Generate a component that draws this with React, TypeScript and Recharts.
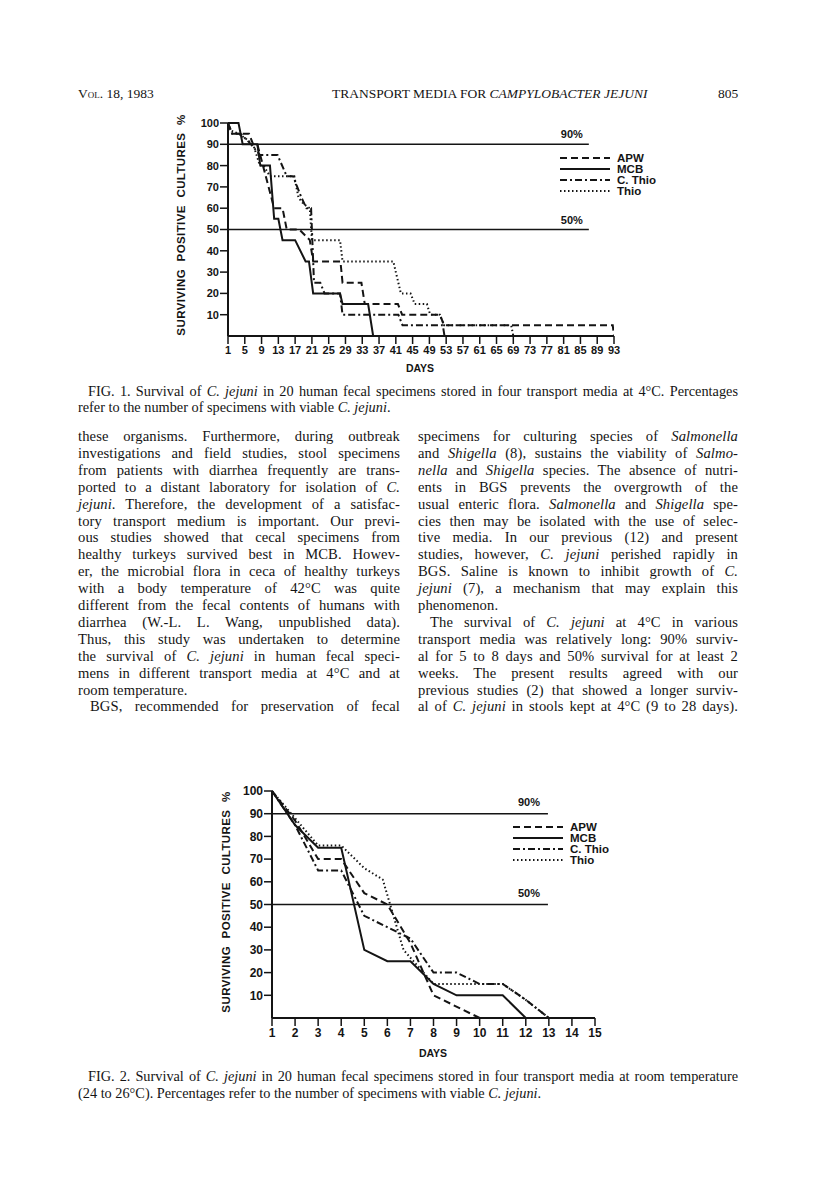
import React from 'react';
import { LineChart, Line, XAxis, YAxis, ReferenceLine, Legend } from 'recharts';

// Fig. 1 — storage at 4°C, [day, % surviving]
const apwCold: [number, number][] = [
  [1, 100], [2, 95], [6, 95], [7, 90], [8, 90], [12, 60], [14, 60], [15, 50], [18, 50],
  [20.5, 45], [21.3, 35], [27.8, 35], [28.3, 25], [32.8, 25], [33.6, 15], [41.5, 15],
  [42.5, 10], [51.5, 10], [52.5, 5], [92.7, 5], [93, 0],
];
const mcbCold: [number, number][] = [
  [1, 100], [3.5, 100], [4.5, 90], [8, 90], [8.7, 80], [11, 80], [12, 55], [13, 55],
  [14, 45], [17, 45], [19.5, 35], [20.3, 35], [21.3, 20], [27.7, 20], [28.3, 15],
  [34.4, 15], [35.6, 0],
];
const cthioCold: [number, number][] = [
  [1, 100], [2, 95], [4, 95], [6.5, 90], [8.6, 85], [12.8, 85], [15, 75], [16.5, 75],
  [17.5, 70], [18.5, 65], [19.7, 60], [20.8, 60], [21.5, 25], [23, 25], [24, 20],
  [27.7, 20], [28.3, 10], [41.6, 10], [42.6, 5], [52.2, 5], [52.6, 0],
];
const thioCold: [number, number][] = [
  [1, 97], [3.5, 95], [5, 93], [7, 90], [8.6, 80], [9.5, 80], [11, 75], [16.8, 75],
  [17.8, 65], [19, 62], [20.5, 60], [21, 45], [27.7, 45], [28.3, 35], [40.4, 35],
  [42.2, 20], [44.5, 20], [45.5, 15], [48.4, 15], [49.2, 10], [51.5, 10], [52.5, 5],
  [68.5, 5], [69, 0],
];

// Fig. 2 — room temperature
const apwRoom: [number, number][] = [
  [1, 100], [2, 87], [3, 70], [4, 70], [5, 55], [6, 50], [7, 33], [8, 10], [10, 0],
];
const mcbRoom: [number, number][] = [
  [1, 100], [2, 85], [3, 75], [4, 75], [5, 30], [6, 25], [7, 25], [8, 15], [9, 10],
  [11, 10], [12, 0],
];
const cthioRoom: [number, number][] = [
  [1, 100], [2, 85], [3, 65], [4, 65], [5, 45], [6, 40], [7, 35], [8, 20], [9, 20],
  [10, 15], [11, 15], [12, 8], [13, 0],
];
const thioRoom: [number, number][] = [
  [1, 100], [2, 88], [3, 76], [4, 76], [5, 66], [5.8, 61], [6.7, 30], [8, 15], [11, 15],
  [12, 8], [13, 0],
];

const ticksCold = [1, 5, 9, 13, 17, 21, 25, 29, 33, 37, 41, 45, 49, 53, 57, 61, 65, 69, 73, 77, 81, 85, 89, 93];
const ticksRoom = [1, 2, 3, 4, 5, 6, 7, 8, 9, 10, 11, 12, 13, 14, 15];
const pctTicks = [10, 20, 30, 40, 50, 60, 70, 80, 90, 100];
const mediaNames = ['APW', 'MCB', 'C. Thio', 'Thio'];

const leftColumn = [
  'these organisms. Furthermore, during outbreak',
  'investigations and field studies, stool specimens',
  'from patients with diarrhea frequently are trans-',
  'ported to a distant laboratory for isolation of *C.*',
  '*jejuni*. Therefore, the development of a satisfac-',
  'tory transport medium is important. Our previ-',
  'ous studies showed that cecal specimens from',
  'healthy turkeys survived best in MCB. Howev-',
  'er, the microbial flora in ceca of healthy turkeys',
  'with a body temperature of 42°C was quite',
  'different from the fecal contents of humans with',
  'diarrhea (W.-L. L. Wang, unpublished data).',
  'Thus, this study was undertaken to determine',
  'the survival of *C. jejuni* in human fecal speci-',
  'mens in different transport media at 4°C and at',
  'room temperature.',
  'BGS, recommended for preservation of fecal',
];
const rightColumn = [
  'specimens for culturing species of *Salmonella*',
  'and *Shigella* (8), sustains the viability of *Salmo-*',
  '*nella* and *Shigella* species. The absence of nutri-',
  'ents in BGS prevents the overgrowth of the',
  'usual enteric flora. *Salmonella* and *Shigella* spe-',
  'cies then may be isolated with the use of selec-',
  'tive media. In our previous (12) and present',
  'studies, however, *C. jejuni* perished rapidly in',
  'BGS. Saline is known to inhibit growth of *C.*',
  '*jejuni* (7), a mechanism that may explain this',
  'phenomenon.',
  'The survival of *C. jejuni* at 4°C in various',
  'transport media was relatively long: 90% surviv-',
  'al for 5 to 8 days and 50% survival for at least 2',
  'weeks. The present results agreed with our',
  'previous studies (2) that showed a longer surviv-',
  'al of *C. jejuni* in stools kept at 4°C (9 to 28 days).',
];

const toRows = (pts: [number, number][]) => pts.map(([day, pct]) => ({ day, pct }));

const INK = '#141414';
const sans = '"Liberation Sans", Arial, sans-serif';
const serif = '"Liberation Serif", "Times New Roman", serif';
const dashes: Record<string, string | undefined> = {
  APW: '7 4',
  MCB: undefined,
  'C. Thio': '7 3 2 3',
  Thio: '1.5 2.5',
};

function Rich({ text }: { text: string }) {
  return (
    <>
      {text.split('*').map((p, i) => (i % 2 ? <i key={i}>{p}</i> : <span key={i}>{p}</span>))}
    </>
  );
}

function TextLine({ x, y, w, text, size = 14, justify = true, spacing = 0 }: {
  x: number; y: number; w: number; text: string; size?: number; justify?: boolean; spacing?: number;
}) {
  return (
    <div
      style={{
        position: 'absolute', left: x, top: y - 9, width: w, height: 18, lineHeight: '18px',
        fontFamily: serif, fontSize: size, color: INK, letterSpacing: spacing,
        textAlign: justify ? 'justify' : 'left', textAlignLast: justify ? 'justify' : 'left',
      }}
    >
      <Rich text={text} />
    </div>
  );
}

function Column({ x, w, lines, lastLines, indents }: {
  x: number; w: number; lines: string[]; lastLines: number[]; indents: number[];
}) {
  return (
    <>
      {lines.map((t, i) => {
        const ind = indents.includes(i) ? 12 : 0;
        return (
          <TextLine key={i} x={x + ind} y={436 + i * 16.9} w={w - ind} text={t}
            size={14.6} spacing={0.1} justify={!lastLines.includes(i)} />
        );
      })}
    </>
  );
}

function MediaLegend() {
  return (
    <svg width={110} height={48} style={{ display: 'block' }}>
      {mediaNames.map((n, i) => (
        <g key={n}>
          <line x1={0} x2={50} y1={6 + i * 11} y2={6 + i * 11} stroke={INK}
            strokeWidth={2} strokeDasharray={dashes[n]} />
          <text x={57} y={10 + i * 11} fontFamily={sans} fontWeight={700} fontSize={11.5} fill={INK}>{n}</text>
        </g>
      ))}
    </svg>
  );
}

function YTitle({ cx, cy }: { cx: number; cy: number }) {
  const w = 230;
  return (
    <div
      style={{
        position: 'absolute', left: cx - w / 2, top: cy - 8, width: w, height: 16, lineHeight: '16px',
        transform: 'rotate(-90deg)', textAlign: 'center', fontFamily: sans, fontWeight: 700,
        fontSize: 11.5, letterSpacing: 0.4, wordSpacing: 4, color: INK,
      }}
    >
      SURVIVING POSITIVE CULTURES %
    </div>
  );
}

function SurvivalChart({ top, height, left, right, marginTop, maxDay, ticks, series, refEnd, labelOffset, legendPos, tickSize }: {
  top: number; height: number; left: number; right: number; marginTop: number; maxDay: number;
  ticks: number[]; series: [number, number][][]; refEnd: number; labelOffset: number;
  legendPos: { left: number; top: number }; tickSize: number;
}) {
  const axisTick = { fill: INK, fontSize: tickSize, fontWeight: 700, fontFamily: sans };
  const lbl = (v: string) => ({
    value: v, position: 'insideBottomRight' as const, offset: labelOffset,
    fill: INK, fontSize: 11, fontWeight: 700, fontFamily: sans,
  });
  return (
    <div style={{ position: 'absolute', left: 0, top }}>
      <LineChart width={816} height={height}
        margin={{ top: marginTop, right: 816 - right, left: left - 40, bottom: 0 }}>
        <XAxis type="number" dataKey="day" domain={[1, maxDay]} ticks={ticks} interval={0}
          allowDataOverflow height={30} tick={axisTick} tickSize={8} tickMargin={2}
          axisLine={{ stroke: INK, strokeWidth: 2 }} tickLine={{ stroke: INK, strokeWidth: 1.5 }} />
        <YAxis type="number" dataKey="pct" domain={[0, 100]} ticks={pctTicks} interval={0}
          width={40} tick={axisTick} tickSize={8} tickMargin={1}
          axisLine={{ stroke: INK, strokeWidth: 2 }} tickLine={{ stroke: INK, strokeWidth: 1.5 }} />
        <ReferenceLine segment={[{ x: 1, y: 90 }, { x: refEnd, y: 90 }]} stroke={INK}
          strokeWidth={1.5} label={lbl('90%')} />
        <ReferenceLine segment={[{ x: 1, y: 50 }, { x: refEnd, y: 50 }]} stroke={INK}
          strokeWidth={1.5} label={lbl('50%')} />
        {series.map((pts, i) => (
          <Line key={mediaNames[i]} data={toRows(pts)} dataKey="pct" name={mediaNames[i]}
            type="linear" stroke={INK} strokeWidth={2} strokeDasharray={dashes[mediaNames[i]]}
            dot={false} activeDot={false} isAnimationActive={false} />
        ))}
        <Legend layout="vertical" align="center" verticalAlign="middle"
          wrapperStyle={{ position: 'absolute', left: legendPos.left, top: legendPos.top, width: 110 }}
          content={() => <MediaLegend />} />
      </LineChart>
    </div>
  );
}

export default function App() {
  return (
    <div style={{ position: 'absolute', left: 0, top: 0, width: 816, height: 1185, background: '#fff', color: INK }}>
      {/* running head */}
      <div style={{ position: 'absolute', left: 78, top: 86, fontFamily: serif, fontSize: 13.5, fontVariant: 'small-caps' }}>
        Vol. 18, 1983
      </div>
      <div style={{ position: 'absolute', left: 332, top: 86, fontFamily: serif, fontSize: 13.5 }}>
        TRANSPORT MEDIA FOR <i>CAMPYLOBACTER JEJUNI</i>
      </div>
      <div style={{ position: 'absolute', left: 718, top: 86, fontFamily: serif, fontSize: 13.5 }}>805</div>

      {/* Fig. 1 */}
      <YTitle cx={181} cy={225} />
      <SurvivalChart top={100} height={266} left={228} right={614} marginTop={23} maxDay={93}
        ticks={ticksCold} series={[apwCold, mcbCold, cthioCold, thioCold]} refEnd={87}
        labelOffset={6} legendPos={{ left: 560, top: 52 }} tickSize={11} />
      <div style={{ position: 'absolute', left: 400, top: 362, width: 40, textAlign: 'center', fontFamily: sans, fontWeight: 700, fontSize: 10.5 }}>DAYS</div>
      <TextLine x={88} y={391} w={650} size={14.3} text="FIG. 1. Survival of *C. jejuni* in 20 human fecal specimens stored in four transport media at 4°C. Percentages" />
      <TextLine x={78} y={407} w={650} size={14.3} justify={false} text="refer to the number of specimens with viable *C. jejuni*." />

      {/* body text */}
      <Column x={78} w={322} lines={leftColumn} lastLines={[15]} indents={[16]} />
      <Column x={418} w={320} lines={rightColumn} lastLines={[10]} indents={[11]} />

      {/* Fig. 2 */}
      <YTitle cx={226} cy={902} />
      <SurvivalChart top={760} height={288} left={272} right={595} marginTop={31} maxDay={15}
        ticks={ticksRoom} series={[apwRoom, mcbRoom, cthioRoom, thioRoom]} refEnd={12.96}
        labelOffset={8} legendPos={{ left: 513, top: 61 }} tickSize={12} />
      <div style={{ position: 'absolute', left: 413, top: 1047, width: 40, textAlign: 'center', fontFamily: sans, fontWeight: 700, fontSize: 10.5 }}>DAYS</div>
      <TextLine x={88} y={1076} w={650} size={14.3} text="FIG. 2. Survival of *C. jejuni* in 20 human fecal specimens stored in four transport media at room temperature" />
      <TextLine x={78} y={1093} w={650} size={14.3} justify={false} text="(24 to 26°C). Percentages refer to the number of specimens with viable *C. jejuni*." />
    </div>
  );
}
